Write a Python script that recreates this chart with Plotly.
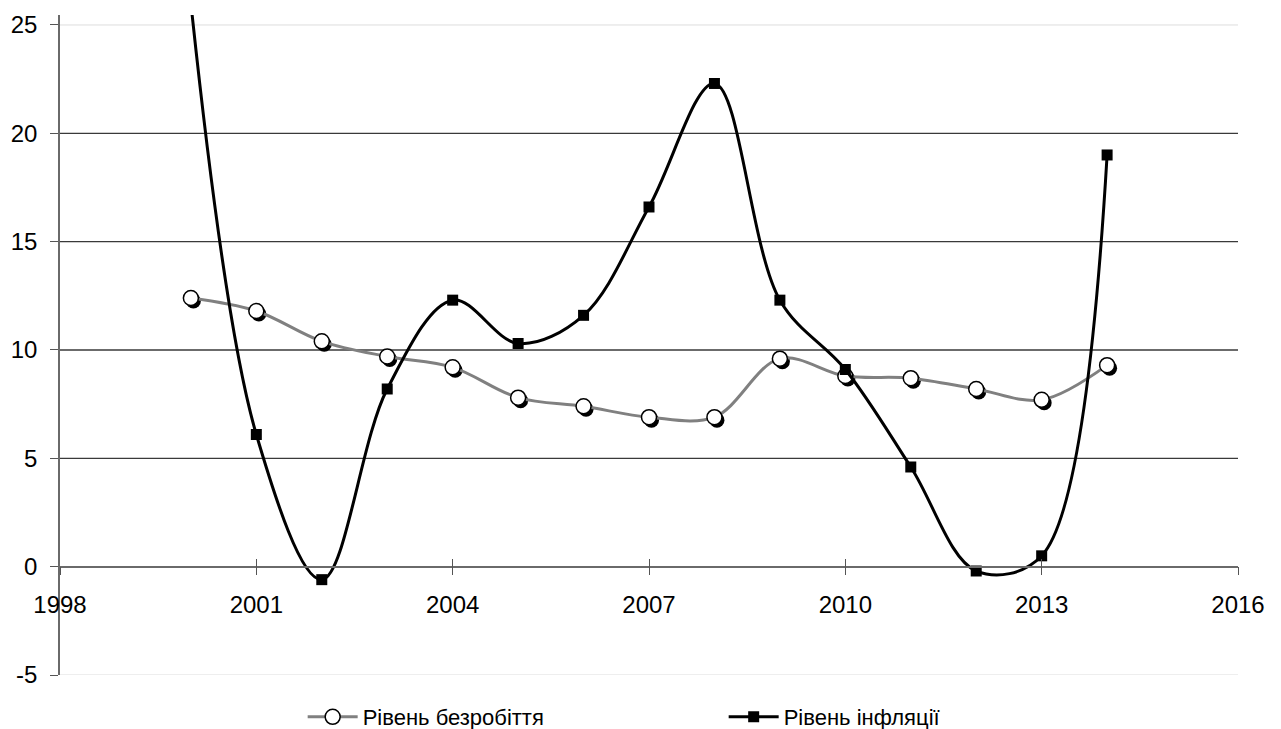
import plotly.graph_objects as go

# ---- data ----
years = [2000, 2001, 2002, 2003, 2004, 2005, 2006, 2007, 2008, 2009, 2010, 2011, 2012, 2013, 2014]
unemployment = [12.4, 11.8, 10.4, 9.7, 9.2, 7.8, 7.4, 6.9, 6.9, 9.6, 8.8, 8.7, 8.2, 7.7, 9.3]
inflation = [26.0, 6.1, -0.6, 8.2, 12.3, 10.3, 11.6, 16.6, 22.3, 12.3, 9.1, 4.6, -0.2, 0.5, 19.0]
series_names = ["Рівень безробіття", "Рівень інфляції"]
x_ticks = [1998, 2001, 2004, 2007, 2010, 2013, 2016]
y_ticks = [-5, 0, 5, 10, 15, 20, 25]
y_tick_text = ["-5", "0", "5", "10", "15", "20", "25"]
dark_grid = [5, 10, 15, 20]
light_grid = [-5, 25]

# ---- layout constants ----
W, H = 1281, 729
ML, MR, MT, MB = 60, 43, 15, 54
PW, PH = W - ML - MR, H - MT - MB
X_MIN, X_MAX = 1998, 2016
Y_MIN, Y_MAX = -5, 25.46
zero_pos = (0 - Y_MIN) / (Y_MAX - Y_MIN)
# shadow offset (pixels -> axis units)
dx = 2.5 * (X_MAX - X_MIN) / PW
dy = 3.0 * (Y_MAX - Y_MIN) / PH

FONT = "Liberation Sans, Arial, sans-serif"

fig = go.Figure()

# marker shadows
fig.add_trace(go.Scatter(
    x=years, y=unemployment, xaxis="x2", yaxis="y2", mode="markers",
    marker=dict(symbol="circle", size=15, color="black"),
    showlegend=False, hoverinfo="skip"))

fig.add_trace(go.Scatter(
    x=years, y=unemployment, xaxis="x3", yaxis="y3", name=series_names[0],
    mode="lines+markers",
    line=dict(color="#808080", width=3, shape="spline", smoothing=1),
    marker=dict(symbol="circle", size=15, color="white", line=dict(color="black", width=1.5))))

fig.add_trace(go.Scatter(
    x=years, y=inflation, xaxis="x3", yaxis="y3", name=series_names[1],
    mode="lines+markers",
    line=dict(color="black", width=3, shape="spline", smoothing=1),
    marker=dict(symbol="square", size=11, color="black")))

shapes = []
for v in dark_grid:
    shapes.append(dict(type="line", xref="paper", yref="y", x0=0, x1=1, y0=v, y1=v,
                       line=dict(color="#3a3a3a", width=1.3), layer="below"))
for v in light_grid:
    shapes.append(dict(type="line", xref="paper", yref="y", x0=0, x1=1, y0=v, y1=v,
                       line=dict(color="#dddddd", width=1), layer="below"))

fig.update_layout(
    width=W, height=H,
    margin=dict(l=ML, r=MR, t=MT, b=MB, autoexpand=False),
    paper_bgcolor="white", plot_bgcolor="white",
    font=dict(family=FONT, size=22, color="black"),
    shapes=shapes,
    xaxis=dict(range=[X_MIN, X_MAX], tickmode="array", tickvals=x_ticks,
               ticks="outside", ticklen=8, tickwidth=1.3, tickcolor="#555555",
               showline=True, linecolor="#6a6a6a", linewidth=1.5,
               showgrid=False, zeroline=False, anchor="free", position=zero_pos,
               automargin=False,
               ticklabelstandoff=9, tickfont=dict(size=24, color="black")),
    yaxis=dict(range=[Y_MIN, Y_MAX], tickmode="array", tickvals=y_ticks, ticktext=y_tick_text,
               ticks="outside", ticklen=8, tickwidth=1.3, tickcolor="#555555",
               showline=True, linecolor="#6a6a6a", linewidth=1.5,
               showgrid=False, zeroline=False, anchor="x", automargin=False,
               ticklabelstandoff=8, tickfont=dict(size=24, color="black")),
    xaxis2=dict(range=[X_MIN - dx, X_MAX - dx], overlaying="x", anchor="y2", visible=False),
    yaxis2=dict(range=[Y_MIN + dy, Y_MAX + dy], overlaying="y", anchor="x2", visible=False),
    xaxis3=dict(range=[X_MIN, X_MAX], overlaying="x", anchor="free", position=zero_pos,
                tickmode="array", tickvals=x_ticks, ticks="inside", ticklen=8,
                tickwidth=1.3, tickcolor="#555555", showticklabels=False,
                showline=False, showgrid=False, zeroline=False),
    yaxis3=dict(range=[Y_MIN, Y_MAX], overlaying="y", anchor="x3", visible=False),
    legend=dict(orientation="h", x=0.206, xanchor="left", y=-(717 - (H - MB)) / PH,
                yanchor="middle", font=dict(size=22, color="black"),
                itemwidth=50,
                entrywidth=356, entrywidthmode="pixels", bgcolor="rgba(0,0,0,0)"),
    showlegend=True,
)

fig.write_html("out.html",
               config={"displayModeBar": False},
               post_script="document.body.style.margin='0';document.body.style.overflow='hidden';")
